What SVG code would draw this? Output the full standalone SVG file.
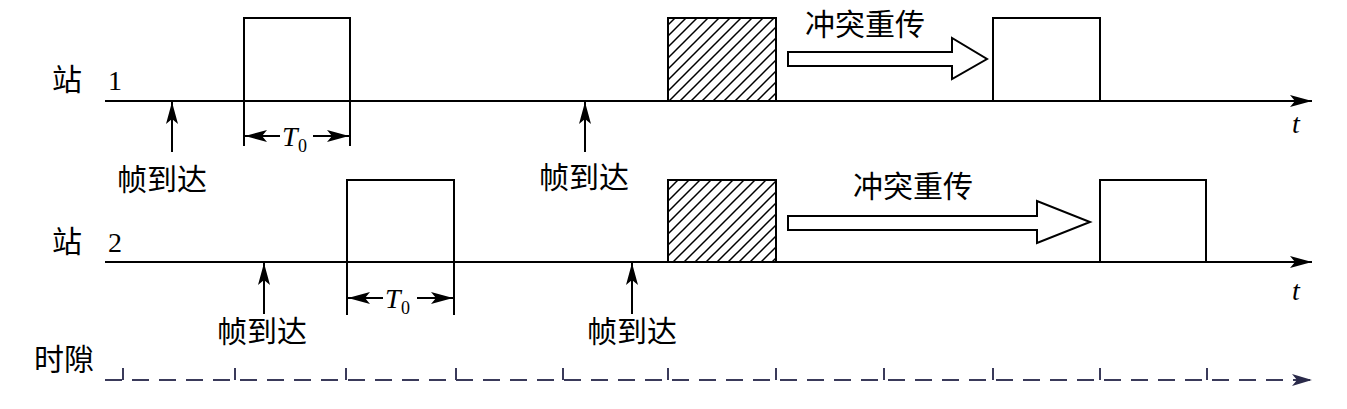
<svg xmlns="http://www.w3.org/2000/svg" width="1347" height="409" viewBox="0 0 1347 409">
<style>
.ln{stroke:#000;stroke-width:2;fill:none}
.box{stroke:#000;stroke-width:2;fill:#fff}
.hbox{stroke:#000;stroke-width:2;fill:url(#hatch)}
.cn{font-family:"Noto Sans CJK SC","Noto Sans CJK JP",sans-serif;font-size:30px;fill:#000}
.num{font-family:"Liberation Serif",serif;font-size:28px;fill:#000}
.it{font-family:"Liberation Serif",serif;font-style:italic;font-size:28px;fill:#000}
.sub{font-family:"Liberation Serif",serif;font-size:18px;fill:#000}
.slot{stroke:#3a3a5a;stroke-width:2;fill:none}
</style>
<defs>
<pattern id="hatch" patternUnits="userSpaceOnUse" width="11" height="11">
<rect width="11" height="11" fill="#fff"/>
<path d="M-3,3 L3,-3 M0,11 L11,0 M8,14 L14,8" stroke="#000" stroke-width="1.5"/>
</pattern>
<marker id="ah" viewBox="0 0 22 12" refX="22" refY="6" markerWidth="22" markerHeight="12" markerUnits="userSpaceOnUse" orient="auto">
<path d="M0,0 L22,6 L0,12 L5,6 Z" fill="#000"/>
</marker>
<marker id="ahs" viewBox="0 0 22 12" refX="22" refY="6" markerWidth="22" markerHeight="12" markerUnits="userSpaceOnUse" orient="auto-start-reverse">
<path d="M0,0 L22,6 L0,12 L5,6 Z" fill="#000"/>
</marker>
<marker id="ahn" viewBox="0 0 20 12" refX="20" refY="6" markerWidth="20" markerHeight="12" markerUnits="userSpaceOnUse" orient="auto">
<path d="M0,0 L20,6 L0,12 L5,6 Z" fill="#2a2a4a"/>
</marker>
</defs>

<g id="labels">
<text class="cn" x="52" y="90">站</text>
<text class="num" x="108" y="90">1</text>
<text class="cn" x="52" y="252">站</text>
<text class="num" x="108" y="252">2</text>
<text class="cn" x="34" y="370">时隙</text>
<text class="it" x="1292" y="133">t</text>
<text class="it" x="1292" y="300">t</text>
</g>

<g id="station1">
<rect id="s1-frame1" class="box" x="244" y="18" width="106" height="83"/>
<rect id="s1-collision" class="hbox" x="668" y="18" width="108" height="83"/>
<rect id="s1-frame2" class="box" x="993" y="18" width="107" height="83"/>
<g id="s1-retx">
<text class="cn" x="805" y="35">冲突重传</text>
<path class="box" d="M788,52 L952,52 L952,38 L987,59 L952,79 L952,66 L788,66 Z"/>
</g>
</g>

<g id="station2">
<rect id="s2-frame1" class="box" x="347" y="180" width="107" height="82"/>
<rect id="s2-collision" class="hbox" x="668" y="180" width="108" height="82"/>
<rect id="s2-frame2" class="box" x="1100" y="180" width="106" height="82"/>
<g id="s2-retx">
<text class="cn" x="853" y="197">冲突重传</text>
<path class="box" d="M788,216 L1037,216 L1037,201 L1090,222 L1037,243 L1037,230 L788,230 Z"/>
</g>
</g>

<g id="connectors">
<line class="ln" x1="105" y1="101" x2="1312" y2="101" marker-end="url(#ah)"/>
<line class="ln" x1="105" y1="262" x2="1312" y2="262" marker-end="url(#ah)"/>
<line class="ln" x1="244" y1="101" x2="244" y2="146"/>
<line class="ln" x1="350" y1="101" x2="350" y2="146"/>
<line class="ln" x1="245" y1="136" x2="280" y2="136" marker-start="url(#ahs)"/>
<line class="ln" x1="313" y1="136" x2="349" y2="136" marker-end="url(#ahs)"/>
<line class="ln" x1="347" y1="262" x2="347" y2="315"/>
<line class="ln" x1="454" y1="262" x2="454" y2="315"/>
<line class="ln" x1="348" y1="298" x2="383" y2="298" marker-start="url(#ahs)"/>
<line class="ln" x1="417" y1="298" x2="453" y2="298" marker-end="url(#ahs)"/>
<line class="ln" x1="172" y1="152" x2="172" y2="102" marker-end="url(#ahs)"/>
<line class="ln" x1="585" y1="152" x2="585" y2="102" marker-end="url(#ahs)"/>
<line class="ln" x1="264" y1="314" x2="264" y2="263" marker-end="url(#ahs)"/>
<line class="ln" x1="632" y1="314" x2="632" y2="263" marker-end="url(#ahs)"/>
</g>

<g id="dims-text">
<text class="it" x="282" y="146">T</text><text class="sub" x="298" y="152">0</text>
<text class="it" x="385" y="308">T</text><text class="sub" x="401" y="314">0</text>
<text class="cn" x="117" y="190">帧到达</text>
<text class="cn" x="539" y="188">帧到达</text>
<text class="cn" x="217" y="342">帧到达</text>
<text class="cn" x="587" y="342">帧到达</text>
</g>

<g id="timeslots">
<line class="slot" x1="105" y1="380" x2="1312" y2="380" stroke-dasharray="17,10" marker-end="url(#ahn)"/>
<path class="slot" d="M123,368 V380 M235,368 V380 M346,368 V380 M456,368 V380 M563,368 V380 M668,368 V380 M776,368 V380 M884,368 V380 M993,368 V380 M1100,368 V380 M1207,368 V380"/>
</g>
</svg>
